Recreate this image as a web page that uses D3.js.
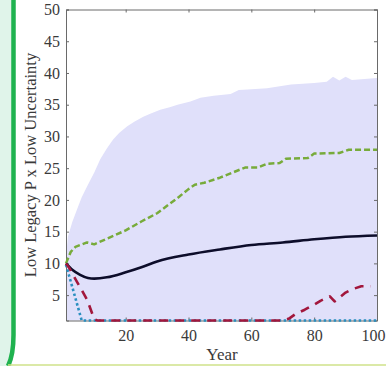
<!DOCTYPE html>
<html><head><meta charset="utf-8">
<script src="https://cdn.jsdelivr.net/npm/d3@7"></script>
<style>html,body{margin:0;padding:0;background:#fff;}svg{display:block;}</style>
</head><body>
<script>
// ---- data ----
const xTicks = [20, 40, 60, 80, 100];
const yTicks = [5, 10, 15, 20, 25, 30, 35, 40, 45, 50];
const yLabel = "Low Legacy P x Low Uncertainty";
const xLabel = "Year";

const bandYears = [1, 1.6, 3, 4.5, 6, 7.7, 10, 11.9, 14, 16, 18, 20.5, 23, 25.6, 28, 31, 34, 36.5, 40.6, 43.8, 48, 53.4, 56, 58.8, 65, 72.6, 80, 84, 86, 88, 90, 92, 95, 100];
const bandUpper = [11, 14.2, 16.5, 18.5, 20.4, 22.1, 24.3, 26.4, 28.1, 29.5, 30.6, 31.6, 32.4, 33.1, 33.6, 34.2, 34.6, 35, 35.5, 36.1, 36.4, 36.7, 37.3, 37.4, 37.6, 38.2, 38.4, 38.6, 39.4, 38.8, 39.4, 38.9, 39, 39.2];

const greenYears = [1, 2.5, 4, 7.7, 10, 15, 20, 25, 30, 36.5, 40, 42, 45, 50, 54, 58, 62, 65, 69, 71, 78, 80, 88, 91, 100];
const greenVals  = [10, 11.8, 12.6, 13.3, 13, 14.1, 15.2, 16.6, 17.9, 20.3, 21.7, 22.4, 22.7, 23.5, 24.3, 25.1, 25.1, 25.7, 25.8, 26.5, 26.6, 27.3, 27.4, 27.9, 27.9];

const blackYears = [1, 3, 5.5, 8, 10, 14, 20, 25, 30, 40, 50, 60, 70, 80, 90, 100];
const blackVals  = [10, 9, 8.2, 7.7, 7.6, 7.8, 8.6, 9.4, 10.3, 11.4, 12.2, 12.9, 13.3, 13.8, 14.2, 14.4];

const redYears = [1, 2, 4.5, 7.7, 10, 11, 70, 72, 74, 77, 80, 82, 85, 86.5, 88, 90, 92, 95, 98];
const redVals  = [10, 9.3, 7.1, 4.3, 1.2, 1, 1, 1.3, 2, 2.7, 3.5, 4.1, 4.8, 4, 4.6, 5.4, 5.9, 6.4, 6.4];

const blueYears = [1, 3.5, 6, 100];
const blueVals  = [9.8, 5.4, 1, 1];

// ---- layout ----
const W = 386, H = 366;
const svg = d3.select("body").append("svg").attr("width", W).attr("height", H);

// frame decoration
svg.append("rect").attr("x", 0).attr("y", 0).attr("width", 12).attr("height", H).attr("fill", "#e0f4ea");
svg.append("path").attr("d", "M13.5,0 L13.5,335 Q13.5,355 8,366").attr("fill", "none").attr("stroke", "#1fb24f").attr("stroke-width", 4.5);
svg.append("line").attr("x1", 8).attr("x2", W).attr("y1", 365).attr("y2", 365).attr("stroke", "#cfe28a").attr("stroke-width", 1.5);

const pL = 66, pR = 377, pT = 9.5, pB = 320.5;
const x = d3.scaleLinear().domain([1, 100]).range([pL, pR]);
const y = d3.scaleLinear().domain([1, 50]).range([pB, pT]);

const g = svg.append("g");

// band
const band = bandYears.map((t, i) => [t, bandUpper[i]]);
g.append("path")
  .attr("d", d3.area().x(d => x(d[0])).y0(y(1)).y1(d => y(d[1]))(band))
  .attr("fill", "#e0e0fa");

// axes box
const axisColor = "#6a6a6a";
const font = "'Liberation Serif', 'Times New Roman', serif";
const xAxisB = d3.axisBottom(x).tickValues(xTicks).tickSize(-3).tickPadding(9);
const xAxisT = d3.axisTop(x).tickValues(xTicks).tickSize(-3).tickFormat("");
const yAxisL = d3.axisLeft(y).tickValues(yTicks).tickSize(-3).tickPadding(6);
const yAxisR = d3.axisRight(y).tickValues(yTicks).tickSize(-3).tickFormat("");

function style(sel) {
  sel.attr("font-family", font).attr("font-size", 16);
  sel.selectAll("path").attr("stroke", axisColor).attr("stroke-width", 1);
  sel.selectAll("line").attr("stroke", axisColor);
  sel.selectAll("text").attr("fill", "#3a3a3a").attr("font-family", font).attr("font-size", 16);
  return sel;
}
const xb = style(svg.append("g").attr("transform", `translate(0,${pB})`).call(xAxisB));
xb.selectAll("text").filter(d => d === 100).attr("dx", -4);
style(svg.append("g").attr("transform", `translate(0,${pT})`).call(xAxisT));
style(svg.append("g").attr("transform", `translate(${pL},0)`).call(yAxisL));
style(svg.append("g").attr("transform", `translate(${pR},0)`).call(yAxisR));

// lines
const lg = svg.append("g");
function drawLine(ys, vs, color, dash, w, curve) {
  const pts = ys.map((t, i) => [t, vs[i]]);
  lg.append("path").attr("d", d3.line().x(d => x(d[0])).y(d => y(d[1])).curve(curve || d3.curveLinear)(pts))
    .attr("fill", "none").attr("stroke", color).attr("stroke-width", w)
    .attr("stroke-dasharray", dash).attr("stroke-linejoin", "round");
}
drawLine(greenYears, greenVals, "#77ab3a", "6,3", 2.5);
drawLine(blackYears, blackVals, "#0d0d2a", null, 2.6, d3.curveMonotoneX);
drawLine(blueYears, blueVals, "#2a8fc0", "2.5,2.5", 2.6);
drawLine(redYears, redVals, "#a2173c", "9,7", 2.6);

// labels
svg.append("text").attr("x", 222).attr("y", 360).attr("text-anchor", "middle")
  .attr("font-family", font).attr("font-size", 17).attr("fill", "#3a3a3a").text(xLabel);
svg.append("text").attr("transform", "translate(36,165) rotate(-90)").attr("text-anchor", "middle")
  .attr("font-family", font).attr("font-size", 16.5).attr("fill", "#3a3a3a").text(yLabel);
</script>
</body></html>
